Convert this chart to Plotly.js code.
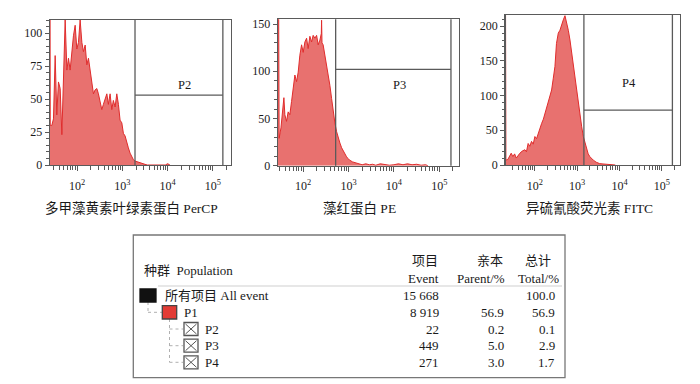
<!DOCTYPE html>
<html>
<head>
<meta charset="utf-8">
<script src="https://cdn.plot.ly/plotly-3.0.1.min.js"></script>
<style>html,body{margin:0;padding:0;background:#fff;}#chart{width:700px;height:384px;}</style>
</head>
<body>
<div id="chart"></div>
<script>
// ---------- DATA ----------
// Histogram bins: log10 of fluorescence intensity, and event counts
const percpLog = [1.39,1.405,1.44,1.477,1.514,1.55,1.587,1.625,1.662,1.70,1.735,1.773,1.808,1.845,1.883,1.918,1.956,1.993,2.029,2.066,2.104,2.139,2.177,2.214,2.25,2.287,2.325,2.36,2.397,2.435,2.47,2.508,2.545,2.58,2.618,2.656,2.69,2.728,2.766,2.80,2.839,2.876,2.912,2.949,2.987,3.022,3.06,3.097,3.132,3.17,3.207,3.243,3.28,3.353,3.43,3.50,3.55,3.95,4.0,4.05];
const percpCount = [400,30,30,35,83,38,63,58,23,68,110,72,81,72,88,98,106,88,93,110,93,86,91,76,81,71,63,54,57,58,54,49,42,46,51,54,46,54,42,49,44,54,46,34,32,24,22,16,13,9,6,4,3,2,1.5,0.5,0,0,1,0];

const peLog = [1.435,1.455,1.47,1.51,1.544,1.575,1.596,1.633,1.669,1.706,1.744,1.78,1.817,1.854,1.89,1.927,1.965,2.0,2.038,2.075,2.11,2.148,2.185,2.22,2.258,2.296,2.331,2.369,2.40,2.406,2.415,2.44,2.48,2.517,2.552,2.589,2.627,2.662,2.70,2.737,2.773,2.81,2.848,2.905,2.95,2.98,3.02,3.09,3.16,3.24,3.30,3.38,3.46,3.53,3.60,3.70,3.80,3.90,4.00,4.10,4.20,4.30,4.40,4.50,4.60,4.70,4.75];
const peCount = [500,36,29,40,54,72,54,47,57,54,68,82,96,89,99,117,128,120,131,135,124,137,131,138,135,138,128,133,140,154,130,128,117,106,96,85,71,57,45,36,29,24,19,13,10,8,6,4,3,2,1,2,1,1.5,0.5,2,1,0.5,1,2,1,2,1,1.5,0.5,1,0];

const fitcLog = [1.295,1.315,1.36,1.40,1.44,1.48,1.52,1.56,1.60,1.645,1.70,1.763,1.80,1.84,1.88,1.92,1.96,2.0,2.04,2.08,2.12,2.16,2.20,2.237,2.28,2.316,2.355,2.395,2.435,2.474,2.51,2.553,2.592,2.63,2.671,2.711,2.75,2.79,2.829,2.87,2.908,2.948,2.987,3.026,3.066,3.106,3.145,3.185,3.225,3.26,3.30,3.34,3.38,3.45,3.53,3.61,3.73,3.83,3.90];
const fitcCount = [500,7,8,12,17,12,16,10,14,17,20,22,19,31,27,34,30,41,38,46,52,60,66,74,82,89,97,108,125,142,175,190,194,202,209,215,206,194,180,161,142,122,103,84,70,55,41,31,22,16,12,9,7,4,2,1.5,1,0.5,0];

// Gates
const gateNames = ['P2','P3','P4'];
const gateLow   = [1900, 520, 1440];
const gateHigh  = [166000, 181000, 178000];
const gateSplit = [53, 102, 79];

// Axis titles
const axisTitles = ['多甲藻黄素叶绿素蛋白 PerCP','藻红蛋白 PE','异硫氰酸荧光素 FITC'];
const xTickVals = [100, 1000, 10000, 100000];
const xTickText = ['10<sup>2</sup>','10<sup>3</sup>','10<sup>4</sup>','10<sup>5</sup>'];

// Table
const tableHeader = ['种群  Population','项目','Event','亲本','Parent/%','总计','Total/%'];
const popNames  = ['所有项目 All event','P1','P2','P3','P4'];
const popEvents = ['15 668','8 919','22','449','271'];
const popParent = ['','56.9','0.2','5.0','3.0'];
const popTotal  = ['100.0','56.9','0.1','2.9','1.7'];

// ---------- DRAWING ----------
const W = 700, H = 384;
const PX = x => x / W, PY = y => 1 - y / H;
const SERIF = '"Liberation Serif","Times New Roman","Noto Sans CJK SC",serif';
const LINE = '#5a5a5a';
const FILL = '#e8716f';
const RED = '#e02c2c';
const TXT = '#1a1a1a';

const series = [[percpLog, percpCount],[peLog, peCount],[fitcLog, fitcCount]];
const traces = series.map((s, i) => ({
  type: 'scatter', mode: 'lines',
  x: s[0].map(v => Math.pow(10, v)), y: s[1],
  xaxis: i === 0 ? 'x' : 'x' + (i + 1), yaxis: i === 0 ? 'y' : 'y' + (i + 1),
  fill: 'tozeroy', fillcolor: FILL,
  line: {color: RED, width: 1}, hoverinfo: 'skip', showlegend: false
}));

const panels = [
  {xd:[50,231], yd:[20,165], xr:[1.40,5.40], yr:[0,110], dt:25, mdt:5, lab:[4.38,61], title:131},
  {xd:[278,459], yd:[19.3,165.7], xr:[1.445,5.435], yr:[0,155], dt:50, mdt:10, lab:[4.13,85], title:360},
  {xd:[505.5,680], yd:[15,165], xr:[1.305,5.43], yr:[0,216], dt:50, mdt:10, lab:[4.23,118], title:589}
];

const minorVals = [];
[10,100,1000,10000,100000].forEach(d => { for (let k = 2; k <= 9; k++) minorVals.push(d * k); });

const layout = {
  width: W, height: H, margin: {l:0, r:0, t:0, b:0},
  paper_bgcolor: '#fff', plot_bgcolor: '#fff', showlegend: false,
  font: {family: SERIF, color: TXT, size: 12},
  shapes: [], annotations: []
};

panels.forEach((p, i) => {
  const sx = i === 0 ? '' : String(i + 1);
  layout['xaxis' + sx] = {
    domain: [PX(p.xd[0]), PX(p.xd[1])], type: 'log', range: p.xr, anchor: 'y' + sx,
    showline: true, linecolor: LINE, linewidth: 1.3, mirror: true,
    showgrid: false, zeroline: false, fixedrange: true,
    tickmode: 'array', tickvals: xTickVals, ticktext: xTickText,
    ticks: 'outside', ticklen: 5, tickcolor: LINE, tickwidth: 1,
    ticklabelstandoff: 4,
    tickfont: {family: SERIF, size: 12, color: TXT},
    minor: {tickmode: 'array', tickvals: minorVals, ticks: 'outside', ticklen: 4, tickcolor: LINE, tickwidth: 1, showgrid: false}
  };
  layout['yaxis' + sx] = {
    domain: [PY(p.yd[1]), PY(p.yd[0])], range: p.yr, anchor: 'x' + sx,
    showline: true, linecolor: LINE, linewidth: 1.3, mirror: true,
    showgrid: false, zeroline: false, fixedrange: true,
    dtick: p.dt, tick0: 0, ticks: 'outside', ticklen: 4, tickcolor: LINE, tickwidth: 1,
    tickfont: {family: SERIF, size: 12, color: TXT},
    minor: {dtick: p.mdt, ticks: 'outside', ticklen: 2.5, tickcolor: LINE, tickwidth: 1, showgrid: false}
  };
  const xr = 'x' + sx, yr = 'y' + sx;
  // gate
  [gateLow[i], gateHigh[i]].forEach(gx => layout.shapes.push({
    type: 'line', xref: xr, yref: yr + ' domain', x0: gx, x1: gx, y0: 0, y1: 1,
    line: {color: LINE, width: 1.3}
  }));
  layout.shapes.push({
    type: 'line', xref: xr, yref: yr, x0: gateLow[i], x1: gateHigh[i], y0: gateSplit[i], y1: gateSplit[i],
    line: {color: LINE, width: 1.3}
  });
  layout.annotations.push({
    xref: xr, yref: yr, x: p.lab[0], y: p.lab[1], text: gateNames[i], showarrow: false,
    font: {family: SERIF, size: 12.5, color: TXT}
  });
  layout.annotations.push({
    xref: 'paper', yref: 'paper', x: PX(p.title), y: PY(208), text: axisTitles[i], showarrow: false,
    xanchor: 'center', yanchor: 'middle', font: {family: SERIF, size: 13.5, color: TXT}
  });
});

// ---------- TABLE ----------
const T = (x, y, text, anchor, size) => layout.annotations.push({
  xref: 'paper', yref: 'paper', x: PX(x), y: PY(y), text: text, showarrow: false,
  xanchor: anchor, yanchor: 'middle', font: {family: SERIF, size: size || 13, color: TXT}
});
const R = (x0, y0, x1, y1, line, fill) => layout.shapes.push({
  type: 'rect', xref: 'paper', yref: 'paper', x0: PX(x0), x1: PX(x1), y0: PY(y1), y1: PY(y0),
  line: {color: line, width: 1.3}, fillcolor: fill || 'rgba(0,0,0,0)'
});
const L = (x0, y0, x1, y1, color, width, dash) => layout.shapes.push({
  type: 'line', xref: 'paper', yref: 'paper', x0: PX(x0), x1: PX(x1), y0: PY(y0), y1: PY(y1),
  line: {color: color, width: width, dash: dash || 'solid'}
});

R(133.3, 235, 565, 377.7, '#777');
L(158, 286, 562, 286, '#d0d0d0', 1.2);

T(141.5, 270, tableHeader[0], 'left');
T(440, 260, tableHeader[1], 'right');
T(441, 278.5, tableHeader[2], 'right');
T(505, 260, tableHeader[3], 'right');
T(507, 278.5, tableHeader[4], 'right');
T(553, 260, tableHeader[5], 'right');
T(560.5, 278.5, tableHeader[6], 'right');

const rowY = [295.7, 312.3, 329, 345.7, 362.3];
// tree connectors
L(148, 302, 148, rowY[1], '#b0b0b0', 1, 'dot');
L(148, rowY[1], 162, rowY[1], '#b0b0b0', 1, 'dot');
L(169.5, 319, 169.5, rowY[4], '#b0b0b0', 1, 'dot');
[2,3,4].forEach(k => L(169.5, rowY[k], 183, rowY[k], '#b0b0b0', 1, 'dot'));

// icons
R(140, 289, 156, 302, '#111', '#111');
R(162.3, 305.7, 176.7, 319, '#444', '#e23b35');
[2,3,4].forEach(k => {
  const y0 = rowY[k] - 6.5, y1 = rowY[k] + 6.5, x0 = 184, x1 = 198;
  R(x0, y0, x1, y1, '#555', '#fff');
  L(x0 + 1.5, y0 + 1.5, x1 - 1.5, y1 - 1.5, '#555', 1);
  L(x0 + 1.5, y1 - 1.5, x1 - 1.5, y0 + 1.5, '#555', 1);
});

const nameX = [163.3, 181.5, 203.3, 203.3, 203.3];
popNames.forEach((n, k) => {
  T(nameX[k], rowY[k], n, 'left');
  T(441, rowY[k], popEvents[k], 'right');
  if (popParent[k]) T(505.5, rowY[k], popParent[k], 'right');
  T(557, rowY[k], popTotal[k], 'right');
});

Plotly.newPlot('chart', traces, layout, {displayModeBar: false, staticPlot: true});
</script>
</body>
</html>
